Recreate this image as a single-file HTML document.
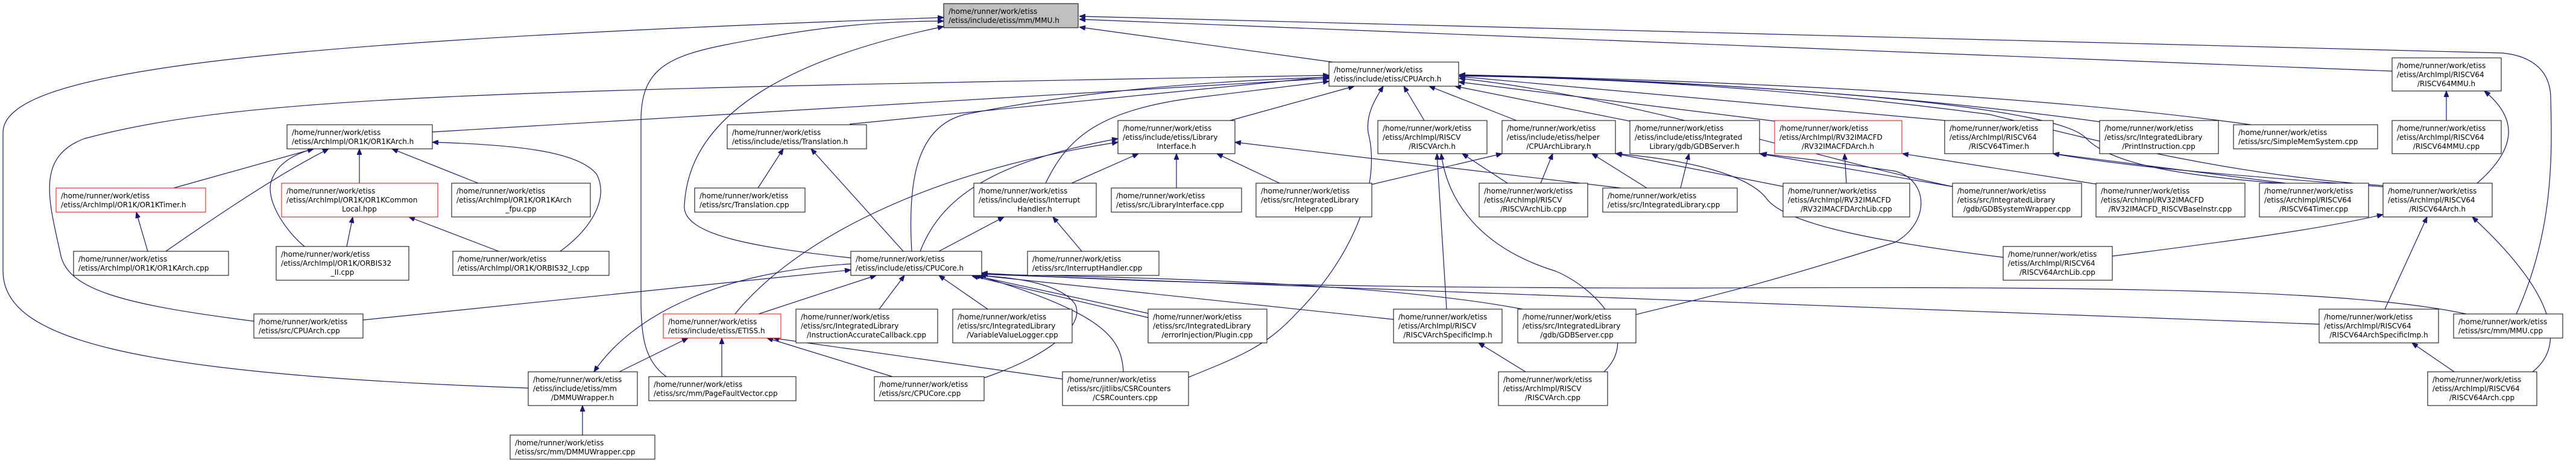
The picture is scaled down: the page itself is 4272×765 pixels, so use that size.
<!DOCTYPE html>
<html><head><meta charset="utf-8"><style>
html,body{margin:0;padding:0;background:#fff;}
svg{display:block;}
text{font-family:"DejaVu Sans","Liberation Sans",sans-serif;font-size:12px;fill:#000;}
.e{fill:none;stroke:#191970;stroke-width:1.2;marker-end:url(#a);}
.n{fill:#fff;stroke:#000;stroke-width:1;}
.r{fill:#fff;stroke:#ff0000;stroke-width:1;}
.g{fill:#bfbfbf;stroke:#000;stroke-width:1;}
</style></head><body>
<svg width="4272" height="765" viewBox="0 0 4272 765" xmlns="http://www.w3.org/2000/svg">
<defs><marker id="a" markerWidth="10" markerHeight="8" refX="10" refY="4" orient="auto" markerUnits="userSpaceOnUse"><path d="M0,0 L10,4 L0,8 z" fill="#191970" stroke="#191970"/></marker></defs>
<g id="edges">
<path class="e" d="M2210,103 L1790,45"/>
<path class="e" d="M876,644 C200,620 5,560 5,450 L5,220 C5,120 400,70 1565,29"/>
<path class="e" d="M1105,625 C1070,600 1063,560 1063,500 L1063,200 C1063,120 1100,95 1200,75 C1350,45 1450,35 1565,35"/>
<path class="e" d="M1411,428 C1250,410 1130,390 1135,340 C1140,250 1200,120 1565,44"/>
<path class="e" d="M3967,118 L3172,87 L1790,32"/>
<path class="e" d="M4173,521 C4237,380 4232,250 4230,160 C4228,110 4190,92 4150,88 L1790,27"/>
<path class="e" d="M717,219 L2204,130"/>
<path class="e" d="M421,533 C200,505 110,480 100,420 C80,330 60,260 140,230 C400,160 800,150 2204,125"/>
<path class="e" d="M1409,206 L2204,127"/>
<path class="e" d="M1512,417 C1505,300 1520,210 1600,190 C1800,150 2000,135 2204,128"/>
<path class="e" d="M2040,200 L2246,143"/>
<path class="e" d="M1734,304 C1770,230 1820,180 2000,160 L2204,135"/>
<path class="e" d="M1219,521 C1300,420 1500,290 1854,236"/>
<path class="e" d="M1526,417 C1560,330 1640,270 1854,230"/>
<path class="e" d="M1557,417 L1665,360"/>
<path class="e" d="M1794,417 L1746,360"/>
<path class="e" d="M1951,312 L1951,255"/>
<path class="e" d="M2122,304 L2018,255"/>
<path class="e" d="M1777,304 L1888,255"/>
<path class="e" d="M2688,312 L2048,236"/>
<path class="e" d="M2362,200 L2328,143"/>
<path class="e" d="M2515,200 L2370,143"/>
<path class="e" d="M2703,201 L2413,143"/>
<path class="e" d="M2943,201 L2419,136"/>
<path class="e" d="M3226,200 L2420,127"/>
<path class="e" d="M3482,202 C3100,150 2700,130 2420,125"/>
<path class="e" d="M3733,207 C3400,160 2900,135 2420,124"/>
<path class="e" d="M3952,308 C3700,290 3500,240 3300,190 C3000,150 2700,130 2420,126"/>
<path class="e" d="M3780,304 C3600,290 3500,270 3460,230 C3420,180 3000,140 2420,125"/>
<path class="e" d="M3240,310 C3000,260 2700,160 2420,130"/>
<path class="e" d="M3480,306 L3155,255"/>
<path class="e" d="M3790,304 L3405,255"/>
<path class="e" d="M3952,310 C3700,290 3550,280 3405,255"/>
<path class="e" d="M3240,310 L2918,255"/>
<path class="e" d="M3062,304 L3059,255"/>
<path class="e" d="M2960,310 L2680,255"/>
<path class="e" d="M2500,304 L2425,255"/>
<path class="e" d="M2555,304 L2575,255"/>
<path class="e" d="M2731,312 L2640,255"/>
<path class="e" d="M2787,312 L2801,255"/>
<path class="e" d="M2275,306 L2491,255"/>
<path class="e" d="M2399,513 L2383,255"/>
<path class="e" d="M2660,617 C2720,560 2650,480 2580,450 C2450,410 2400,330 2390,255"/>
<path class="e" d="M2530,617 L2452,569"/>
<path class="e" d="M2713,522 C2800,500 2900,480 3143,402 C3200,370 3200,300 3143,284 C3050,270 2980,262 2920,255"/>
<path class="e" d="M1971,626 C2060,590 2100,574 2150,520 C2250,420 2290,300 2269,220 C2265,190 2280,165 2294,143"/>
<path class="e" d="M1632,627 C1740,590 1800,540 1783,505 C1760,470 1680,460 1621,457"/>
<path class="e" d="M1480,625 L1272,561"/>
<path class="e" d="M1762,629 L1282,561"/>
<path class="e" d="M1863,617 C1860,560 1830,520 1621,457"/>
<path class="e" d="M1197,625 L1197,561"/>
<path class="e" d="M1027,617 L1141,561"/>
<path class="e" d="M966,722 L966,673"/>
<path class="e" d="M1258,521 L1453,457"/>
<path class="e" d="M1458,513 L1500,457"/>
<path class="e" d="M1638,513 L1557,457"/>
<path class="e" d="M1904,520 L1615,457"/>
<path class="e" d="M1904,527 L1612,458"/>
<path class="e" d="M2311,530 L1625,457"/>
<path class="e" d="M2525,513 C2300,470 1900,460 1628,455"/>
<path class="e" d="M3846,538 L1628,455"/>
<path class="e" d="M4090,521 C3900,480 3500,475 2800,478 C2300,478 1900,470 1628,453"/>
<path class="e" d="M602,531 L1411,448"/>
<path class="e" d="M1411,438 C1200,450 1050,520 985,617"/>
<path class="e" d="M1257,312 L1299,247"/>
<path class="e" d="M1498,417 L1345,247"/>
<path class="e" d="M288,312 L520,247"/>
<path class="e" d="M245,417 L226,352"/>
<path class="e" d="M275,417 C400,330 480,280 545,247"/>
<path class="e" d="M596,304 L596,247"/>
<path class="e" d="M793,304 L650,247"/>
<path class="e" d="M575,409 L585,360"/>
<path class="e" d="M505,409 C470,380 440,330 450,300 C460,270 490,255 520,247"/>
<path class="e" d="M827,417 L678,360"/>
<path class="e" d="M929,417 C980,380 1010,330 990,290 C960,250 850,240 717,236"/>
<path class="e" d="M4057,200 L4057,151"/>
<path class="e" d="M4108,304 C4170,250 4180,200 4120,151"/>
<path class="e" d="M3503,425 C3700,400 3850,380 3952,356"/>
<path class="e" d="M3322,427 C3100,400 2960,370 2930,330 C2900,290 2800,265 2679,255"/>
<path class="e" d="M3955,513 L4025,360"/>
<path class="e" d="M4070,617 L4000,569"/>
<path class="e" d="M4200,617 C4260,570 4230,480 4100,360"/>
</g>
<g id="nodes">
<rect class="g" x="1565" y="6" width="223" height="40"/><text x="1573" y="23">/home/runner/work/etiss</text><text x="1573" y="38">/etiss/include/etiss/mm/MMU.h</text>
<rect class="n" x="2204" y="103" width="215" height="40"/><text x="2212" y="120">/home/runner/work/etiss</text><text x="2212" y="135">/etiss/include/etiss/CPUArch.h</text>
<rect class="n" x="476" y="207" width="241" height="40"/><text x="484" y="224">/home/runner/work/etiss</text><text x="484" y="239">/etiss/ArchImpl/OR1K/OR1KArch.h</text>
<rect class="n" x="1206" y="207" width="231" height="40"/><text x="1214" y="224">/home/runner/work/etiss</text><text x="1214" y="239">/etiss/include/etiss/Translation.h</text>
<rect class="n" x="1854" y="200" width="194" height="55"/><text x="1862" y="217">/home/runner/work/etiss</text><text x="1862" y="232">/etiss/include/etiss/Library</text><text x="1951" y="247" text-anchor="middle">Interface.h</text>
<rect class="n" x="2285" y="200" width="181" height="55"/><text x="2293" y="217">/home/runner/work/etiss</text><text x="2293" y="232">/etiss/ArchImpl/RISCV</text><text x="2375" y="247" text-anchor="middle">/RISCVArch.h</text>
<rect class="n" x="2491" y="200" width="188" height="55"/><text x="2499" y="217">/home/runner/work/etiss</text><text x="2499" y="232">/etiss/include/etiss/helper</text><text x="2585" y="247" text-anchor="middle">/CPUArchLibrary.h</text>
<rect class="n" x="2703" y="200" width="215" height="55"/><text x="2711" y="217">/home/runner/work/etiss</text><text x="2711" y="232">/etiss/include/etiss/Integrated</text><text x="2810" y="247" text-anchor="middle">Library/gdb/GDBServer.h</text>
<rect class="r" x="2943" y="200" width="211" height="55"/><text x="2951" y="217">/home/runner/work/etiss</text><text x="2951" y="232">/etiss/ArchImpl/RV32IMACFD</text><text x="3048" y="247" text-anchor="middle">/RV32IMACFDArch.h</text>
<rect class="n" x="3225" y="200" width="180" height="55"/><text x="3233" y="217">/home/runner/work/etiss</text><text x="3233" y="232">/etiss/ArchImpl/RISCV64</text><text x="3315" y="247" text-anchor="middle">/RISCV64Timer.h</text>
<rect class="n" x="3482" y="200" width="197" height="55"/><text x="3490" y="217">/home/runner/work/etiss</text><text x="3490" y="232">/etiss/src/IntegratedLibrary</text><text x="3580" y="247" text-anchor="middle">/PrintInstruction.cpp</text>
<rect class="n" x="3704" y="207" width="239" height="40"/><text x="3712" y="224">/home/runner/work/etiss</text><text x="3712" y="239">/etiss/src/SimpleMemSystem.cpp</text>
<rect class="n" x="3967" y="96" width="181" height="55"/><text x="3975" y="113">/home/runner/work/etiss</text><text x="3975" y="128">/etiss/ArchImpl/RISCV64</text><text x="4057" y="143" text-anchor="middle">/RISCV64MMU.h</text>
<rect class="n" x="3967" y="200" width="181" height="55"/><text x="3975" y="217">/home/runner/work/etiss</text><text x="3975" y="232">/etiss/ArchImpl/RISCV64</text><text x="4057" y="247" text-anchor="middle">/RISCV64MMU.cpp</text>
<rect class="r" x="93" y="312" width="248" height="40"/><text x="101" y="329">/home/runner/work/etiss</text><text x="101" y="344">/etiss/ArchImpl/OR1K/OR1KTimer.h</text>
<rect class="r" x="467" y="304" width="259" height="56"/><text x="475" y="321">/home/runner/work/etiss</text><text x="475" y="336">/etiss/ArchImpl/OR1K/OR1KCommon</text><text x="596" y="351" text-anchor="middle">Local.hpp</text>
<rect class="n" x="749" y="304" width="230" height="56"/><text x="757" y="321">/home/runner/work/etiss</text><text x="757" y="336">/etiss/ArchImpl/OR1K/OR1KArch</text><text x="864" y="351" text-anchor="middle">_fpu.cpp</text>
<rect class="n" x="1152" y="312" width="183" height="40"/><text x="1160" y="329">/home/runner/work/etiss</text><text x="1160" y="344">/etiss/src/Translation.cpp</text>
<rect class="n" x="1615" y="304" width="203" height="56"/><text x="1623" y="321">/home/runner/work/etiss</text><text x="1623" y="336">/etiss/include/etiss/Interrupt</text><text x="1716" y="351" text-anchor="middle">Handler.h</text>
<rect class="n" x="1843" y="312" width="216" height="40"/><text x="1851" y="329">/home/runner/work/etiss</text><text x="1851" y="344">/etiss/src/LibraryInterface.cpp</text>
<rect class="n" x="2083" y="304" width="192" height="56"/><text x="2091" y="321">/home/runner/work/etiss</text><text x="2091" y="336">/etiss/src/IntegratedLibrary</text><text x="2179" y="351" text-anchor="middle">Helper.cpp</text>
<rect class="n" x="2453" y="304" width="180" height="56"/><text x="2461" y="321">/home/runner/work/etiss</text><text x="2461" y="336">/etiss/ArchImpl/RISCV</text><text x="2543" y="351" text-anchor="middle">/RISCVArchLib.cpp</text>
<rect class="n" x="2658" y="312" width="223" height="40"/><text x="2666" y="329">/home/runner/work/etiss</text><text x="2666" y="344">/etiss/src/IntegratedLibrary.cpp</text>
<rect class="n" x="2957" y="304" width="210" height="56"/><text x="2965" y="321">/home/runner/work/etiss</text><text x="2965" y="336">/etiss/ArchImpl/RV32IMACFD</text><text x="3062" y="351" text-anchor="middle">/RV32IMACFDArchLib.cpp</text>
<rect class="n" x="3238" y="304" width="214" height="56"/><text x="3246" y="321">/home/runner/work/etiss</text><text x="3246" y="336">/etiss/src/IntegratedLibrary</text><text x="3345" y="351" text-anchor="middle">/gdb/GDBSystemWrapper.cpp</text>
<rect class="n" x="3476" y="304" width="247" height="56"/><text x="3484" y="321">/home/runner/work/etiss</text><text x="3484" y="336">/etiss/ArchImpl/RV32IMACFD</text><text x="3599" y="351" text-anchor="middle">/RV32IMACFD_RISCVBaseInstr.cpp</text>
<rect class="n" x="3747" y="304" width="181" height="56"/><text x="3755" y="321">/home/runner/work/etiss</text><text x="3755" y="336">/etiss/ArchImpl/RISCV64</text><text x="3837" y="351" text-anchor="middle">/RISCV64Timer.cpp</text>
<rect class="n" x="3952" y="304" width="181" height="56"/><text x="3960" y="321">/home/runner/work/etiss</text><text x="3960" y="336">/etiss/ArchImpl/RISCV64</text><text x="4042" y="351" text-anchor="middle">/RISCV64Arch.h</text>
<rect class="n" x="122" y="417" width="257" height="40"/><text x="130" y="434">/home/runner/work/etiss</text><text x="130" y="449">/etiss/ArchImpl/OR1K/OR1KArch.cpp</text>
<rect class="n" x="458" y="409" width="220" height="56"/><text x="466" y="426">/home/runner/work/etiss</text><text x="466" y="441">/etiss/ArchImpl/OR1K/ORBIS32</text><text x="568" y="456" text-anchor="middle">_II.cpp</text>
<rect class="n" x="751" y="417" width="259" height="40"/><text x="759" y="434">/home/runner/work/etiss</text><text x="759" y="449">/etiss/ArchImpl/OR1K/ORBIS32_I.cpp</text>
<rect class="n" x="1411" y="417" width="217" height="40"/><text x="1419" y="434">/home/runner/work/etiss</text><text x="1419" y="449">/etiss/include/etiss/CPUCore.h</text>
<rect class="n" x="1704" y="417" width="218" height="40"/><text x="1712" y="434">/home/runner/work/etiss</text><text x="1712" y="449">/etiss/src/InterruptHandler.cpp</text>
<rect class="n" x="3322" y="409" width="181" height="56"/><text x="3330" y="426">/home/runner/work/etiss</text><text x="3330" y="441">/etiss/ArchImpl/RISCV64</text><text x="3412" y="456" text-anchor="middle">/RISCV64ArchLib.cpp</text>
<rect class="n" x="421" y="521" width="181" height="40"/><text x="429" y="538">/home/runner/work/etiss</text><text x="429" y="553">/etiss/src/CPUArch.cpp</text>
<rect class="r" x="1100" y="521" width="195" height="40"/><text x="1108" y="538">/home/runner/work/etiss</text><text x="1108" y="553">/etiss/include/etiss/ETISS.h</text>
<rect class="n" x="1320" y="513" width="235" height="56"/><text x="1328" y="530">/home/runner/work/etiss</text><text x="1328" y="545">/etiss/src/IntegratedLibrary</text><text x="1437" y="560" text-anchor="middle">/InstructionAccurateCallback.cpp</text>
<rect class="n" x="1580" y="513" width="198" height="56"/><text x="1588" y="530">/home/runner/work/etiss</text><text x="1588" y="545">/etiss/src/IntegratedLibrary</text><text x="1679" y="560" text-anchor="middle">/VariableValueLogger.cpp</text>
<rect class="n" x="1904" y="513" width="197" height="56"/><text x="1912" y="530">/home/runner/work/etiss</text><text x="1912" y="545">/etiss/src/IntegratedLibrary</text><text x="2002" y="560" text-anchor="middle">/errorInjection/Plugin.cpp</text>
<rect class="n" x="2311" y="513" width="180" height="56"/><text x="2319" y="530">/home/runner/work/etiss</text><text x="2319" y="545">/etiss/ArchImpl/RISCV</text><text x="2401" y="560" text-anchor="middle">/RISCVArchSpecificImp.h</text>
<rect class="n" x="2517" y="513" width="196" height="56"/><text x="2525" y="530">/home/runner/work/etiss</text><text x="2525" y="545">/etiss/src/IntegratedLibrary</text><text x="2615" y="560" text-anchor="middle">/gdb/GDBServer.cpp</text>
<rect class="n" x="3846" y="513" width="198" height="56"/><text x="3854" y="530">/home/runner/work/etiss</text><text x="3854" y="545">/etiss/ArchImpl/RISCV64</text><text x="3945" y="560" text-anchor="middle">/RISCV64ArchSpecificImp.h</text>
<rect class="n" x="4069" y="521" width="181" height="40"/><text x="4077" y="538">/home/runner/work/etiss</text><text x="4077" y="553">/etiss/src/mm/MMU.cpp</text>
<rect class="n" x="876" y="617" width="181" height="56"/><text x="884" y="634">/home/runner/work/etiss</text><text x="884" y="649">/etiss/include/etiss/mm</text><text x="966" y="664" text-anchor="middle">/DMMUWrapper.h</text>
<rect class="n" x="1076" y="625" width="244" height="40"/><text x="1084" y="642">/home/runner/work/etiss</text><text x="1084" y="657">/etiss/src/mm/PageFaultVector.cpp</text>
<rect class="n" x="1450" y="625" width="182" height="40"/><text x="1458" y="642">/home/runner/work/etiss</text><text x="1458" y="657">/etiss/src/CPUCore.cpp</text>
<rect class="n" x="1762" y="617" width="209" height="56"/><text x="1770" y="634">/home/runner/work/etiss</text><text x="1770" y="649">/etiss/src/jitlibs/CSRCounters</text><text x="1866" y="664" text-anchor="middle">/CSRCounters.cpp</text>
<rect class="n" x="2485" y="617" width="181" height="56"/><text x="2493" y="634">/home/runner/work/etiss</text><text x="2493" y="649">/etiss/ArchImpl/RISCV</text><text x="2575" y="664" text-anchor="middle">/RISCVArch.cpp</text>
<rect class="n" x="4026" y="617" width="181" height="56"/><text x="4034" y="634">/home/runner/work/etiss</text><text x="4034" y="649">/etiss/ArchImpl/RISCV64</text><text x="4116" y="664" text-anchor="middle">/RISCV64Arch.cpp</text>
<rect class="n" x="846" y="722" width="240" height="40"/><text x="854" y="739">/home/runner/work/etiss</text><text x="854" y="754">/etiss/src/mm/DMMUWrapper.cpp</text>
</g>
</svg>
</body></html>
